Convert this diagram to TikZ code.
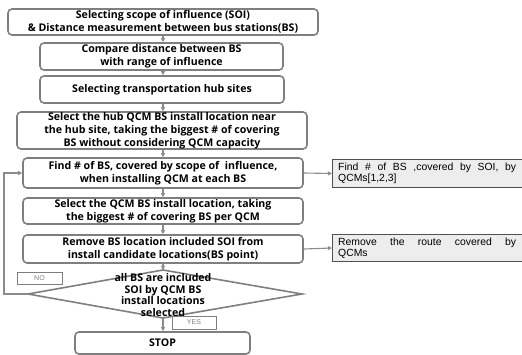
\documentclass[tikz,border=0pt]{standalone}
\usepackage{fontspec}
\setmainfont{Open Sans}
\newfontfamily\sidef{Liberation Sans}
\usetikzlibrary{arrows.meta}
\definecolor{bord}{HTML}{7F7F7F}
\definecolor{arrc}{HTML}{8C8C8C}
\definecolor{sidefill}{HTML}{EDEDED}
\definecolor{sideb}{HTML}{505050}
\begin{document}
\begin{tikzpicture}[x=1pt,y=-1pt,
  box/.style={draw=bord, line width=1.6pt, rounded corners=4pt, align=center, inner sep=0pt,
    font=\bfseries\fontsize{10.6}{12.8}\selectfont},
  sidebox/.style={draw=sideb, fill=sidefill, line width=1.2pt, inner sep=0pt,
    minimum width=191pt, minimum height=27.5pt},
  sidetext/.style={text width=178pt, align=justify, inner sep=0pt, font=\sidef\fontsize{10.4}{11}\selectfont},
  tag/.style={draw=bord, line width=0.6pt, inner sep=0pt, text=bord, font=\sidef\fontsize{7}{8}\selectfont},
  arr/.style={draw=arrc, line width=1.1pt, -{Triangle[length=4pt,width=4pt]}},
  dia/.style={draw=bord, line width=1.6pt}
]
\useasboundingbox (0,0) rectangle (522,355);

\node[box, minimum width=310pt, minimum height=26pt] (b1) at (163,22)
  {Selecting scope of influence (SOI)\\\& Distance measurement between bus stations(BS)};
\node[box, minimum width=243pt, minimum height=27pt] (b2) at (161.5,56.5)
  {Compare distance between BS\\with range of influence};
\node[box, minimum width=244pt, minimum height=27pt] (b3) at (162,89.5)
  {Selecting transportation hub sites};
\node[box, minimum width=290pt, minimum height=37pt] (b4) at (162,130.5)
  {Select the hub QCM BS install location near\\the hub site, taking the biggest \# of covering\\BS without considering QCM capacity};
\node[box, minimum width=280pt, minimum height=30pt] (b5) at (163,173)
  {Find \# of BS, covered by scope of~ influence,\\when installing QCM at each BS};
\node[box, minimum width=280pt, minimum height=26pt] (b6) at (163,211)
  {Select the QCM BS install location, taking\\the biggest \# of covering BS per QCM};
\node[box, minimum width=280pt, minimum height=28pt] (b7) at (163,249)
  {Remove BS location included SOI from\\install candidate locations(BS point)};

% decision diamond
\coordinate (dt) at (163,270);
\coordinate (dr) at (302,294);
\coordinate (db) at (163,318);
\coordinate (dl) at (28,294);
\draw[dia] (dt) -- (dr) -- (db) -- (dl) -- cycle;
\node[align=center, inner sep=0pt, font=\bfseries\fontsize{10.6}{11.8}\selectfont] (dtext) at (163,295)
  {all BS are included\\SOI by QCM BS\\install locations\\selected};

\node[box, minimum width=175pt, minimum height=22pt] (stop) at (162.5,343) {STOP};

% side boxes
\node[sidebox] (sa) at (428,173.5) {};
\node[sidetext, anchor=west] (sat) at (338,173.5)
  {Find \# of BS ,covered by SOI, by\linebreak QCMs[1,2,3]};
\node[sidebox] (sb) at (428,248) {};
\node[sidetext, anchor=west] (sbt) at (338,248)
  {Remove the route covered by\linebreak QCMs};

% tags
\node[tag, minimum width=45pt, minimum height=12pt] (no) at (39.5,278) {NO};
\node[tag, minimum width=44pt, minimum height=13pt] (yes) at (194,322.5) {YES};

% connectors
\draw[arr] (b1.south) -- (b2.north -| b1.south);
\draw[arr] (b2.south -| b1.south) -- (b3.north -| b1.south);
\draw[arr] (b3.south -| b1.south) -- (b4.north -| b1.south);
\draw[arr] (b4.south -| b1.south) -- (b5.north);
\draw[arr] (b5.south) -- (b6.north);
\draw[arr] (b6.south) -- (b7.north);
\draw[arr] (b7.south) -- (dt);
\draw[arr] (db) -- (stop.north -| db);
\coordinate (lp) at (4,294);
\draw[arr] (dl) -- (lp) |- (b5.west);
\draw[arr] (b5.east) -- (sa.west);
\draw[arr] (b7.east) -- (sb.west);
\end{tikzpicture}
\end{document}
